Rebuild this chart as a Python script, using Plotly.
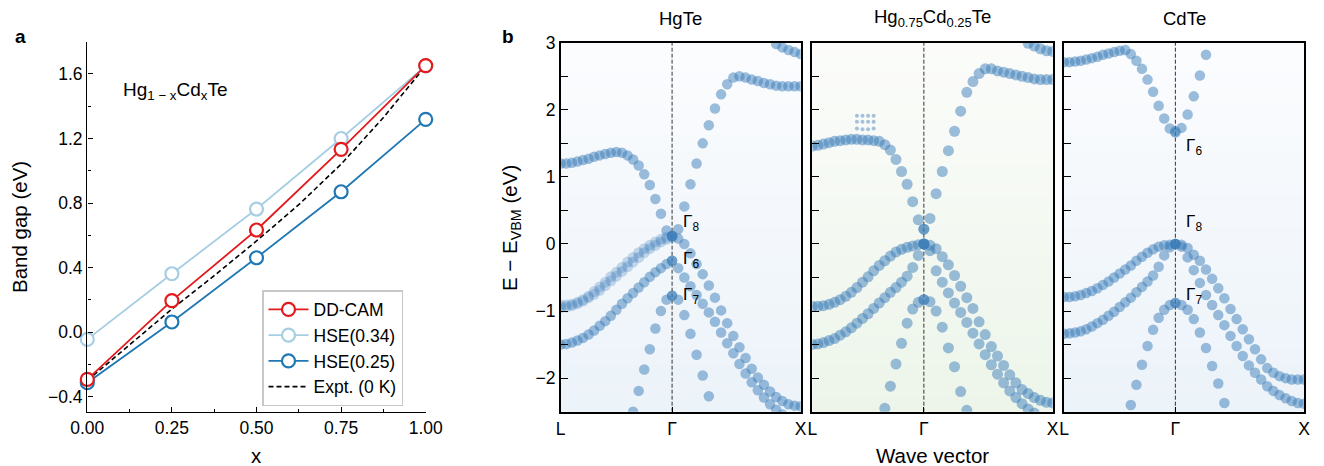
import numpy as np
import plotly.graph_objects as go

# ---------------- Panel a data ----------------
x_comp = [0.0, 0.25, 0.5, 0.75, 1.0]
gap_ddcam = [-0.293, 0.195, 0.633, 1.133, 1.652]
gap_hse034 = [-0.045, 0.362, 0.763, 1.200, 1.650]
gap_hse025 = [-0.313, 0.063, 0.461, 0.870, 1.319]
x_expt = [0.0, 0.125, 0.25, 0.375, 0.5, 0.625, 0.75, 0.875, 1.0]
gap_expt = [-0.30, -0.08, 0.143, 0.35, 0.565, 0.79, 1.041, 1.33, 1.65]

# ---------------- Panel b data ----------------
# energies (eV) of band dots along L-Gamma (21 k-points) and Gamma-X (22 k-points)
k_labels = ["L", "Γ", "X"]
len_LG, len_GX = 0.866, 1.0

# HgTe
hg_LG_A = [1.20, 1.20, 1.21, 1.23, 1.25, 1.27, 1.30, 1.32, 1.34, 1.36, 1.37, 1.36, 1.32, 1.26, 1.17, 1.04, 0.88, 0.67, 0.45, 0.20, 0.12]
hg_LG_B1 = [-0.91, -0.91, -0.90, -0.87, -0.83, -0.78, -0.71, -0.64, -0.57, -0.49, -0.42, -0.35, -0.27, -0.20, -0.13, -0.07, -0.02, 0.03, 0.07, 0.10, 0.12]
hg_LG_B2 = [-0.95, -0.94, -0.92, -0.89, -0.85, -0.80, -0.75, -0.69, -0.62, -0.55, -0.48, -0.41, -0.34, -0.27, -0.20, -0.13, -0.07, -0.02, 0.03, 0.07, 0.10]
hg_LG_C = [-1.50, -1.49, -1.47, -1.44, -1.40, -1.35, -1.29, -1.22, -1.15, -1.07, -0.98, -0.89, -0.81, -0.73, -0.65, -0.57, -0.49, -0.42, -0.36, -0.30, -0.25]
hg_LG_D = [None] * 13 + [-2.50, -2.19, -1.87, -1.57, -1.26, -1.00, -0.83, -0.77]
hg_GX_A = [0.12, 0.22, 0.56, 0.89, 1.20, 1.50, 1.77, 2.02, 2.23, 2.38, 2.48, 2.50, 2.48, 2.45, 2.43, 2.40, 2.38, 2.36, 2.35, 2.35, 2.35, 2.35]
hg_GX_T = [None] * 17 + [2.98, 2.93, 2.89, 2.86, 2.83]
hg_GX_H = [0.12, 0.08, 0.00, -0.14, -0.30, -0.45, -0.62, -0.80, -0.99, -1.18, -1.37, -1.54, -1.70, -1.86, -1.99, -2.10, -2.20, -2.28, -2.34, -2.39, -2.41, -2.42]
hg_GX_L = [-0.25, -0.36, -0.50, -0.63, -0.76, -0.89, -1.02, -1.16, -1.32, -1.48, -1.63, -1.79, -1.93, -2.06, -2.18, -2.29, -2.39, -2.47, -2.54, None, None, None]
hg_GX_S = [-0.77, -0.83, -1.06, -1.34, -1.65, -1.96, -2.27] + [None] * 15

# Hg0.75Cd0.25Te
md_LG_A = [1.46, 1.47, 1.49, 1.51, 1.53, 1.54, 1.55, 1.56, 1.56, 1.55, 1.55, 1.54, 1.53, 1.48, 1.40, 1.26, 1.08, 0.89, 0.63, 0.36, 0.22]
md_LG_B = [-0.93, -0.93, -0.92, -0.90, -0.87, -0.83, -0.78, -0.72, -0.65, -0.57, -0.49, -0.40, -0.32, -0.25, -0.18, -0.12, -0.08, -0.05, -0.03, -0.01, 0.00]
md_LG_C = [-1.50, -1.49, -1.47, -1.44, -1.41, -1.36, -1.31, -1.25, -1.18, -1.11, -1.04, -0.96, -0.88, -0.80, -0.72, -0.65, -0.57, -0.48, -0.35, -0.17, 0.00]
md_LG_D = [None] * 13 + [-2.45, -2.12, -1.79, -1.48, -1.18, -0.97, -0.87, -0.83]
md_GX_A = [0.22, 0.38, 0.75, 1.08, 1.39, 1.68, 1.98, 2.26, 2.42, 2.54, 2.61, 2.61, 2.58, 2.56, 2.54, 2.52, 2.50, 2.48, 2.46, 2.45, 2.45, 2.45]
md_GX_T = [None] * 17 + [2.99, 2.95, 2.91, 2.88, 2.87]
md_GX_H = [0.00, -0.02, -0.07, -0.19, -0.31, -0.47, -0.63, -0.80, -0.96, -1.16, -1.35, -1.53, -1.67, -1.81, -1.95, -2.07, -2.17, -2.23, -2.29, -2.33, -2.36, -2.37]
md_GX_L = [0.00, -0.10, -0.40, -0.57, -0.73, -0.88, -1.02, -1.17, -1.33, -1.49, -1.65, -1.80, -1.94, -2.07, -2.19, -2.29, -2.38, -2.46, -2.52, None, None, None]
md_GX_S = [-0.83, -0.86, -1.00, -1.24, -1.55, -1.83, -2.20, -2.48] + [None] * 14
md_ghost_LG_1 = [None] * 8 + [1.91, 1.91, 1.91, 1.91] + [None] * 9
md_ghost_LG_2 = [None] * 8 + [1.82, 1.82, 1.82, 1.82] + [None] * 9
md_ghost_LG_3 = [None] * 8 + [1.72, 1.71, 1.71, 1.72] + [None] * 9

# CdTe
cd_LG_A = [2.71, 2.71, 2.72, 2.73, 2.75, 2.77, 2.79, 2.82, 2.84, 2.86, 2.88, 2.89, 2.83, 2.73, 2.61, 2.45, 2.27, 2.06, 1.87, 1.72, 1.66]
cd_LG_B = [-0.79, -0.79, -0.78, -0.76, -0.73, -0.70, -0.66, -0.61, -0.56, -0.50, -0.44, -0.38, -0.32, -0.25, -0.19, -0.13, -0.08, -0.04, -0.02, -0.01, 0.00]
cd_LG_C = [-1.34, -1.33, -1.32, -1.30, -1.27, -1.23, -1.18, -1.13, -1.07, -1.01, -0.94, -0.87, -0.80, -0.72, -0.64, -0.56, -0.47, -0.34, -0.17, -0.05, 0.00]
cd_LG_D = [None] * 12 + [-2.40, -2.10, -1.80, -1.52, -1.28, -1.10, -0.98, -0.91, -0.88]
cd_GX_A = [1.68, 1.73, 1.93, 2.20, 2.51, 2.82] + [None] * 16
cd_GX_H = [0.00, -0.01, -0.06, -0.16, -0.25, -0.38, -0.52, -0.66, -0.81, -0.97, -1.12, -1.27, -1.42, -1.57, -1.72, -1.85, -1.92, -1.97, -2.00, -2.02, -2.02, -2.02]
cd_GX_L = [0.00, -0.04, -0.20, -0.39, -0.58, -0.76, -0.91, -1.06, -1.21, -1.37, -1.52, -1.67, -1.81, -1.92, -2.02, -2.12, -2.19, -2.25, -2.30, -2.34, -2.37, -2.38]
cd_GX_S = [-0.88, -0.91, -0.98, -1.12, -1.32, -1.55, -1.82, -2.08, -2.37] + [None] * 13

panel_titles = ["HgTe", "Hg<sub>0.75</sub>Cd<sub>0.25</sub>Te", "CdTe"]

# ---------------- figure ----------------
W, H = 1324, 466
FONT = "Liberation Sans, Arial, sans-serif"
k_LG = np.linspace(0, len_LG, 21)
k_GX = len_LG + np.linspace(0, len_GX, 22)
k_G = len_LG
k_X = len_LG + len_GX


def px_x(p):
    return p / W


def px_y(p):
    return 1 - p / H


def collect(lg_bands, gx_bands):
    xs, ys = [], []
    for b in lg_bands:
        for k, e in zip(k_LG, b):
            if e is not None:
                xs.append(k); ys.append(e)
    for b in gx_bands:
        for k, e in zip(k_GX, b):
            if e is not None:
                xs.append(k); ys.append(e)
    return xs, ys


fig = go.Figure()
red, lblue, dblue = "#e31a1c", "#a6cee3", "#1f78b4"
mk = dict(symbol="circle", size=13, color="white")
fig.add_trace(go.Scatter(x=x_comp, y=gap_hse034, mode="lines+markers", name="HSE(0.34)",
                         line=dict(color=lblue, width=1.8), marker=dict(**mk, line=dict(color=lblue, width=2.2)),
                         cliponaxis=False, legendrank=2, xaxis="x", yaxis="y"))
fig.add_trace(go.Scatter(x=x_comp, y=gap_hse025, mode="lines+markers", name="HSE(0.25)",
                         line=dict(color=dblue, width=1.8), marker=dict(**mk, line=dict(color=dblue, width=2.2)),
                         cliponaxis=False, legendrank=3, xaxis="x", yaxis="y"))
fig.add_trace(go.Scatter(x=x_expt, y=gap_expt, mode="lines", name="Expt. (0 K)",
                         line=dict(color="black", width=1.6, dash="5px,3px"),
                         cliponaxis=False, legendrank=4, xaxis="x", yaxis="y"))
fig.add_trace(go.Scatter(x=x_comp, y=gap_ddcam, mode="lines+markers", name="DD-CAM",
                         line=dict(color=red, width=1.8), marker=dict(**mk, line=dict(color=red, width=2.2)),
                         cliponaxis=False, legendrank=1, xaxis="x", yaxis="y"))

dot = "rgba(60,125,185,0.50)"
dot_light = "rgba(60,125,185,0.28)"
panels = [
    ([hg_LG_A, hg_LG_C, hg_LG_D], [hg_GX_A, hg_GX_T, hg_GX_H, hg_GX_L, hg_GX_S], [hg_LG_B1, hg_LG_B2], 10.5),
    ([md_LG_A, md_LG_B, md_LG_C, md_LG_D], [md_GX_A, md_GX_T, md_GX_H, md_GX_L, md_GX_S], [], 11),
    ([cd_LG_A, cd_LG_B, cd_LG_C, cd_LG_D], [cd_GX_A, cd_GX_H, cd_GX_L, cd_GX_S], [], 10.5),
]
for n, (lg, gx, light, sz) in enumerate(panels):
    ax = str(n + 2)
    xs, ys = collect(lg, gx)
    fig.add_trace(go.Scatter(x=xs, y=ys, mode="markers", showlegend=False,
                             marker=dict(size=sz, color=dot, line=dict(width=0)),
                             xaxis="x" + ax, yaxis="y" + ax, hoverinfo="skip"))
    if light:
        xs, ys = collect(light, [])
        fig.add_trace(go.Scatter(x=xs, y=ys, mode="markers", showlegend=False,
                                 marker=dict(size=11, color=dot_light, line=dict(width=0)),
                                 xaxis="x" + ax, yaxis="y" + ax, hoverinfo="skip"))
    if n == 1:
        xs, ys = collect([md_ghost_LG_1, md_ghost_LG_2, md_ghost_LG_3], [])
        fig.add_trace(go.Scatter(x=xs, y=ys, mode="markers", showlegend=False,
                                 marker=dict(size=4, color="rgba(60,125,185,0.45)", line=dict(width=0)),
                                 xaxis="x" + ax, yaxis="y" + ax, hoverinfo="skip"))

# ---------------- axes ----------------
tickfont = dict(family=FONT, size=17.5, color="black")
ydom = [px_y(411.7), px_y(41.7)]
layout = dict(
    width=W, height=H, margin=dict(l=0, r=0, t=0, b=0, pad=0, autoexpand=False),
    paper_bgcolor="white", plot_bgcolor="white",
    font=dict(family=FONT, color="black"),
    xaxis=dict(domain=[px_x(87.3), px_x(425.7)], range=[0, 1], dtick=0.25, tickformat=".2f",
               ticks="inside", ticklen=5, tickwidth=1.2, tickcolor="black", automargin=False,
               minor=dict(dtick=0.125, ticks="inside", ticklen=3, tickcolor="black"),
               showline=True, linecolor="black", linewidth=1.4, showgrid=False, zeroline=False,
               tickfont=tickfont, anchor="y"),
    yaxis=dict(domain=ydom, range=[-0.493, 1.8], tick0=0, dtick=0.4, tickformat=".1f",
               ticks="inside", ticklen=5, tickwidth=1.2, tickcolor="black", automargin=False,
               minor=dict(dtick=0.2, ticks="inside", ticklen=3, tickcolor="black"),
               showline=True, linecolor="black", linewidth=1.4, showgrid=False, zeroline=False,
               tickfont=tickfont, anchor="x"),
    legend=dict(x=px_x(262), y=px_y(290), xanchor="left", yanchor="top",
                bgcolor="white", bordercolor="#c8c8c8", borderwidth=1.5,
                font=dict(family=FONT, size=17.5), tracegroupgap=0, itemwidth=40),
)
xdoms = [[560.7, 800.7], [812.3, 1052.7], [1064, 1304]]
bdom = [px_y(411.7), px_y(42.7)]
for n in range(3):
    ax = str(n + 2)
    layout["xaxis" + ax] = dict(domain=[px_x(xdoms[n][0]), px_x(xdoms[n][1])], range=[0, k_X],
                                tickvals=[0, k_G, k_X], ticktext=k_labels, ticks="inside", ticklen=5,
                                tickcolor="black", showline=True, mirror=True, linecolor="black",
                                linewidth=1.6, showgrid=False, zeroline=False, tickfont=tickfont,
                                anchor="y" + ax, automargin=False)
    layout["yaxis" + ax] = dict(domain=bdom, range=[-2.5, 3], dtick=1, ticks="inside", ticklen=7,
                                tickcolor="black", tickwidth=1.2, automargin=False,
                                minor=dict(dtick=0.5, ticks="inside", ticklen=7, tickcolor="black"),
                                showline=True, mirror=True, linecolor="black", linewidth=1.6,
                                showgrid=False, zeroline=False, tickfont=tickfont,
                                showticklabels=(n == 0), anchor="x" + ax)
fig.update_layout(**layout)

# backgrounds (vertical gradient) + Gamma dashed lines
shapes = []
grad = [((251, 252, 254), (236, 243, 249)), ((251, 252, 250), (237, 245, 234)), ((251, 252, 254), (236, 243, 249))]
NS = 24
for n in range(3):
    ax = str(n + 2)
    top, bot = grad[n]
    for s in range(NS):
        t = s / (NS - 1)
        c = tuple(int(round(top[i] + (bot[i] - top[i]) * t)) for i in range(3))
        shapes.append(dict(type="rect", xref="x" + ax + " domain", yref="y" + ax + " domain",
                           x0=0, x1=1, y0=1 - (s + 1) / NS, y1=1 - s / NS + 0.002,
                           fillcolor="rgb(%d,%d,%d)" % c, line=dict(width=0), layer="below"))
    shapes.append(dict(type="line", xref="x" + ax, yref="y" + ax + " domain", x0=k_G, x1=k_G, y0=0, y1=1,
                       line=dict(color="#333", width=1, dash="4px,2px"), layer="below"))
fig.update_layout(shapes=shapes)

# ---------------- annotations ----------------
ann = []
ann.append(dict(text="<b>a</b>", x=px_x(13), y=px_y(37), xref="paper", yref="paper", showarrow=False,
                font=dict(size=19, family=FONT), xanchor="left", yanchor="middle"))
ann.append(dict(text="<b>b</b>", x=px_x(500), y=px_y(37), xref="paper", yref="paper", showarrow=False,
                font=dict(size=19, family=FONT), xanchor="left", yanchor="middle"))
ann.append(dict(text="Band gap (eV)", x=px_x(20), y=px_y(227), xref="paper", yref="paper", showarrow=False,
                textangle=-90, font=dict(size=20.5, family=FONT), xanchor="center", yanchor="middle"))
ann.append(dict(text="x", x=px_x(256), y=px_y(455), xref="paper", yref="paper", showarrow=False,
                font=dict(size=20.5, family=FONT), xanchor="center", yanchor="middle"))
ann.append(dict(text="Hg<sub>1 − x</sub>Cd<sub>x</sub>Te", x=px_x(121), y=px_y(91), xref="paper", yref="paper",
                showarrow=False, font=dict(size=19, family=FONT), xanchor="left", yanchor="middle"))
ann.append(dict(text="E − E<sub>VBM</sub> (eV)", x=px_x(511), y=px_y(228), xref="paper", yref="paper",
                showarrow=False, textangle=-90, font=dict(size=20.5, family=FONT), xanchor="center", yanchor="middle"))
ann.append(dict(text="Wave vector", x=px_x(932), y=px_y(455), xref="paper", yref="paper", showarrow=False,
                font=dict(size=20.5, family=FONT), xanchor="center", yanchor="middle"))
for n, t in enumerate(panel_titles):
    cx = (xdoms[n][0] + xdoms[n][1]) / 2
    ann.append(dict(text=t, x=px_x(cx), xref="paper", y=px_y(18), yref="paper", showarrow=False,
                    font=dict(size=18.5, family=FONT), xanchor="center", yanchor="middle"))
gam = [("x2", "y2", 0.32, "Γ<sub>8</sub>"), ("x2", "y2", -0.24, "Γ<sub>6</sub>"), ("x2", "y2", -0.78, "Γ<sub>7</sub>"),
       ("x4", "y4", 1.44, "Γ<sub>6</sub>"), ("x4", "y4", 0.32, "Γ<sub>8</sub>"), ("x4", "y4", -0.78, "Γ<sub>7</sub>")]
for xr, yr, e, t in gam:
    ann.append(dict(text=t, x=k_G + 0.07, xref=xr, y=e, yref=yr, showarrow=False,
                    font=dict(size=17, family=FONT), xanchor="left", yanchor="middle"))
fig.update_layout(annotations=ann)

fig.write_html("out.html", post_script="document.body.style.margin='0';document.body.style.padding='0';")
